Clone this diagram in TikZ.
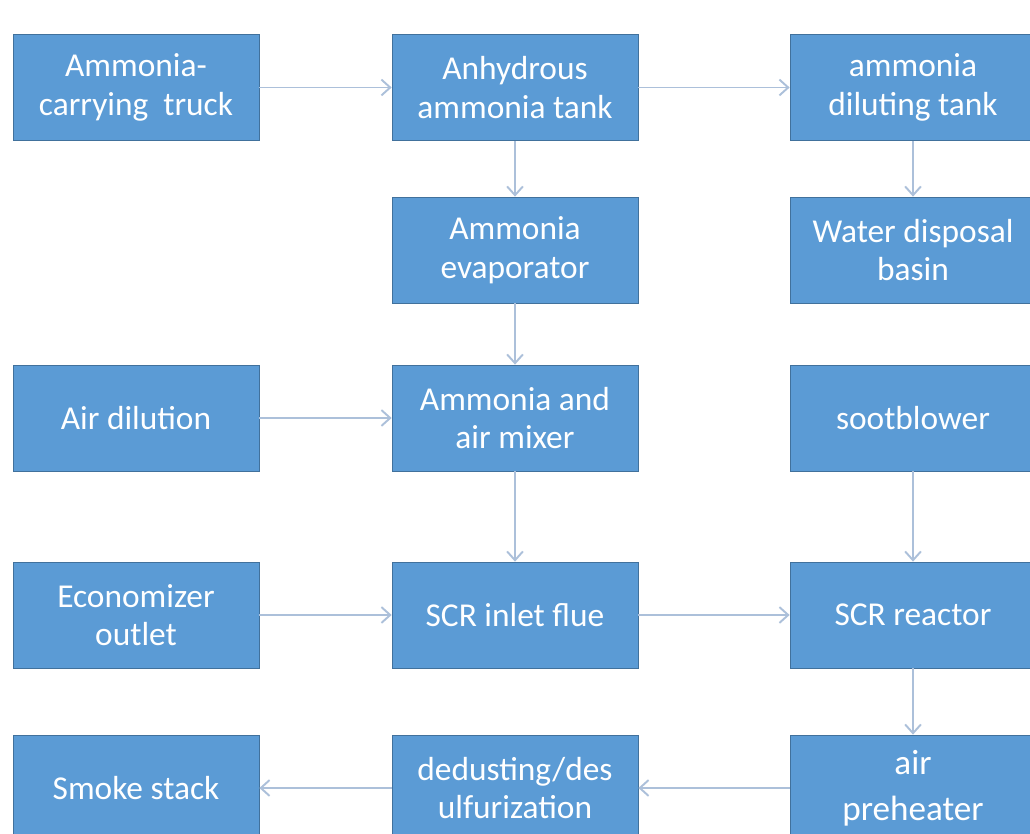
\documentclass[tikz,border=0pt]{standalone}
\usepackage{fontspec}
\setmainfont{Carlito}
\usetikzlibrary{arrows.meta}
\definecolor{boxblue}{RGB}{91,155,213}
\definecolor{boxline}{RGB}{65,113,156}
\definecolor{flowline}{RGB}{172,192,218}
\begin{document}
\begin{tikzpicture}
\tikzstyle{unit} = [fill=boxblue,draw=boxline,line width=0.4,text=white,align=center,
  minimum width=4.92cm,minimum height=2.12cm,inner sep=0,
  font=\fontsize{19}{22}\selectfont];
\tikzstyle{arr} = [draw=flowline,line width=1.1,-{Straight Barb[length=5pt,width=9pt]}];
\useasboundingbox (0,0) rectangle (20.6,16.68);
\node [unit] (v1) at (2.72,14.93) {Ammonia-\\carrying\ \ truck};
\node [unit] (v2) at (10.3,14.93) {Anhydrous\\ammonia tank};
\node [unit] (v3) at (18.26,14.93) {ammonia\\diluting tank};
\node [unit] (v4) at (10.3,11.68) {Ammonia\\evaporator};
\node [unit] (v5) at (18.26,11.68) {Water disposal\\basin};
\node [unit] (v6) at (2.72,8.32) {Air dilution};
\node [unit] (v7) at (10.3,8.32) {Ammonia and\\air mixer};
\node [unit] (v8) at (18.26,8.32) {sootblower};
\node [unit] (v9) at (2.72,4.38) {Economizer\\outlet};
\node [unit] (v10) at (10.3,4.38) {SCR inlet flue};
\node [unit] (v11) at (18.26,4.38) {SCR reactor};
\node [unit] (v12) at (2.72,0.92) {Smoke stack};
\node [unit] (v13) at (10.3,0.92) {dedusting/des\\ulfurization};
\node [unit,font=\fontsize{20}{26}\selectfont] (v14) at (18.26,0.92) {air\\preheater};

\draw [arr] (v1) edge (v2);
\draw [arr] (v2) edge (v3);
\draw [arr] (v2) edge (v4);
\draw [arr] (v3) edge (v5);
\draw [arr] (v4) edge (v7);
\draw [arr] (v6) edge (v7);
\draw [arr] (v7) edge (v10);
\draw [arr] (v8) edge (v11);
\draw [arr] (v9) edge (v10);
\draw [arr] (v10) edge (v11);
\draw [arr] (v11) edge (v14);
\draw [arr] (v14) edge (v13);
\draw [arr] (v13) edge (v12);
\end{tikzpicture}
\end{document}
